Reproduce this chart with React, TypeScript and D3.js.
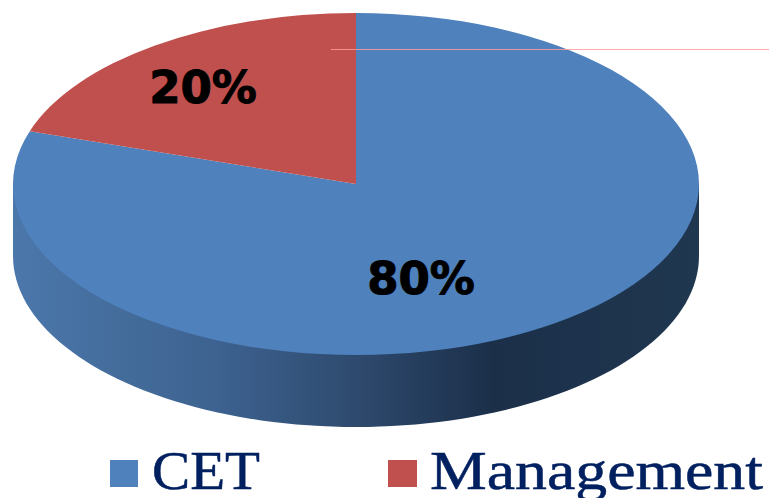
import * as d3 from 'd3';

// share of seats by quota
const categories = ['CET', 'Management'];
const shares = [80, 20];
const sliceColors = ['#4F81BD', '#C0504D'];
const sliceLabels = ['80%', '20%'];
const legendTextColor = '#002060';

const WIDTH = 769;
const HEIGHT = 498;

// tilted pie: top face is a circle squashed vertically
const cx = 356;
const cy = 184;
const rx = 343;
const ry = 171;
const depth = 72;

// side wall shading, left to right
const wallStops = [
  { offset: 0, color: '#4b77ab' },
  { offset: 0.15, color: '#446d9c' },
  { offset: 0.3, color: '#3d6290' },
  { offset: 0.5, color: '#2e4a6e' },
  { offset: 0.7, color: '#1b2f49' },
  { offset: 1, color: '#203750' },
];

// pie starts at 12 o'clock and runs clockwise, CET first
const pie = d3.pie<number>().sort(null).value((d) => d);
const arcs = pie(shares);
const arc = d3.arc<d3.PieArcDatum<number>>().innerRadius(0).outerRadius(rx);

const wallPath = () => {
  const p = d3.path();
  p.moveTo(cx - rx, cy);
  p.lineTo(cx - rx, cy + depth);
  // lower half of the rim, sampled from the ellipse
  d3.range(0, 181, 2).forEach((deg) => {
    const a = (deg * Math.PI) / 180;
    p.lineTo(cx - rx * Math.cos(a), cy + depth + ry * Math.sin(a));
  });
  p.lineTo(cx + rx, cy);
  p.closePath();
  return p.toString();
};

const labelPos = [
  { x: 421, y: 294 },
  { x: 203, y: 103 },
];

const legend = [
  { sx: 110, sw: 28, tx: 152, tw: 108 },
  { sx: 388, sw: 29, tx: 430, tw: 333 },
];

export default function App() {
  return (
    <svg
      width={WIDTH}
      height={HEIGHT}
      viewBox={`0 0 ${WIDTH} ${HEIGHT}`}
      style={{ position: 'absolute', left: 0, top: 0, background: '#fff' }}
    >
      <defs>
        <linearGradient id="wall" x1="0" x2="1" y1="0" y2="0">
          {wallStops.map((s) => (
            <stop key={s.offset} offset={s.offset} stopColor={s.color} />
          ))}
        </linearGradient>
      </defs>

      <path d={wallPath()} fill="url(#wall)" />

      <g transform={`translate(${cx},${cy}) scale(1,${ry / rx})`}>
        {arcs.map((d, i) => (
          <path key={categories[i]} d={arc(d) ?? ''} fill={sliceColors[i]} />
        ))}
      </g>

      {/* stray guide line that sits across the picture */}
      <rect x={331} y={49} width={WIDTH - 331} height={1} fill="#ff9a9a" fillOpacity={0.85} />

      {sliceLabels.map((t, i) => (
        <text
          key={t}
          x={labelPos[i].x}
          y={labelPos[i].y}
          textAnchor="middle"
          fontFamily="'DejaVu Sans', sans-serif"
          fontWeight={700}
          fontSize={45}
          fill="#000"
          stroke="#000"
          strokeWidth={1}
        >
          {t}
        </text>
      ))}

      {categories.map((c, i) => (
        <g key={c}>
          <rect x={legend[i].sx} y={460} width={legend[i].sw} height={27} fill={sliceColors[i]} />
          <text
            x={legend[i].tx}
            y={489}
            fontFamily="'Liberation Serif', serif"
            fontSize={54}
            fill={legendTextColor}
            stroke={legendTextColor}
            strokeWidth={0.5}
            textLength={legend[i].tw}
            lengthAdjust="spacingAndGlyphs"
          >
            {c}
          </text>
        </g>
      ))}
    </svg>
  );
}
